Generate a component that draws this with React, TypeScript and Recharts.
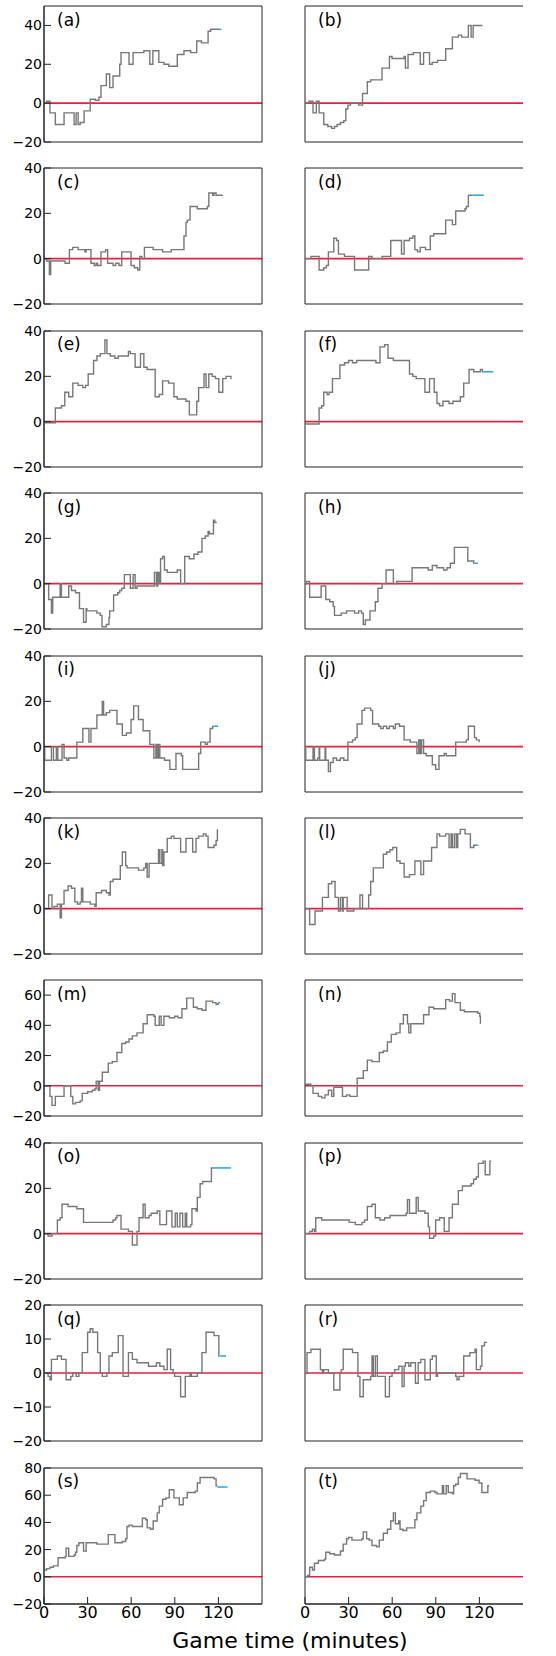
import React from 'react';
import { LineChart, Line, XAxis, YAxis, ReferenceLine } from 'recharts';

type P = [number, number];

// ---- data: [game time (minutes), score difference] ----
const panelA: P[] = [[0,0],[1.8,1],[4.1,-5],[7.8,-11],[13.8,-5],[20.7,-11],[22.1,-5],[23.5,-11],[24.9,-10],[27.6,-4],[31.8,2],[35.3,1.5],[37.8,3],[39.2,9],[42.9,15],[45.2,8],[47.5,14],[52.1,20],[53,26],[58.5,20],[61.3,26],[68.7,27],[72.8,20],[74.9,27],[79,21],[82.5,20],[85.9,19],[91.7,25],[96.3,27],[100.9,26],[105.1,32],[108.3,31],[112.9,37],[114.7,38],[120.5,38]];
const blueA: P[] = [[120.5,38],[122.1,38]];

const panelB: P[] = [[0,0],[2.8,1],[5.5,-5],[7.8,1],[9.7,-5],[12.9,-11],[15.7,-12],[18.4,-13],[20.3,-12],[22.1,-11],[24.4,-10],[26.7,-9],[28.1,-3],[29.5,-1],[31.3,0],[36.9,-1],[39.6,5],[42.9,11],[45.2,12],[53,18],[58.1,24],[59.9,23],[68.2,24],[69.1,18],[70.9,25],[74.6,26],[79.3,20],[81.6,26],[85.7,20],[87.6,21],[91.2,22],[96.8,28],[101.4,34],[105.5,35],[107.8,34],[112.4,40],[114.3,34],[115.7,40],[122.1,40]];
const blueB: P[] = [];

const panelC: P[] = [[0,0],[1.8,-1],[3.7,-7],[4.6,-1],[14.5,-2],[17.5,4],[19.8,5],[23.5,4],[28.1,3],[29,4],[32.3,-2],[34.6,-3],[35.9,-2],[36.9,-3],[39.2,3],[42.4,4],[43.8,-2],[47.5,-3],[49.3,-2],[51.6,-3],[53.5,3],[59.9,-3],[62.2,-4],[64.5,-5],[65.9,1],[67.3,0],[69.1,5],[75.1,4],[81.6,3],[87.6,4],[96.3,10],[97.7,16],[98.6,17],[100.5,23],[105.5,22],[112.4,23],[113.4,29],[116.1,28],[117,29],[118.4,28],[123,28]];
const blueC: P[] = [];

const panelD: P[] = [[0,0],[4.1,1],[9.7,-5],[12.9,-4],[14.7,-3],[16.1,3],[19.8,9],[21.7,8],[23,2],[27.2,1],[34.1,-5],[43.8,1],[46.1,0],[53,1],[59,8],[66.4,2],[68.2,8],[71.9,9],[74.2,10],[75.6,4],[77.4,3],[79.3,5],[82.9,4],[86.2,10],[88.5,11],[96.8,17],[101.4,15],[103.7,21],[110.1,22],[111,23],[112.4,28],[115.2,28]];
const blueD: P[] = [[115.2,28],[123,28]];

const panelE: P[] = [[0,-0.5],[7.8,6],[12,7],[14.3,13],[17,11],[19.8,17],[23.5,16],[26.7,15],[28.6,16],[30.4,21],[34.1,27],[36.4,29],[38.7,30],[41.9,36],[43.3,30],[45.6,29],[48.8,28],[51.1,29],[58.1,31],[59.4,30],[62.7,24],[66.4,30],[68.7,24],[71,23],[76.5,11],[79.3,12],[81.6,18],[85.7,17],[89.4,11],[91.7,10],[97.7,9],[100,3],[105.1,9],[106.4,15],[110.1,21],[111.5,15],[113.4,21],[115.7,20],[118,19],[120.3,13],[123,19],[125.3,20],[128.6,19],[129,19]];
const blueE: P[] = [];

const panelF: P[] = [[0,-1],[9.7,6],[11.5,7],[12.9,13],[15.2,12],[16.6,13],[18.9,19],[24,25],[27.2,26],[30,27],[32.7,26],[35.5,27],[48.8,26],[51.6,33],[54.8,34],[57.1,28],[60.8,27],[71.9,21],[74.2,20],[76.5,19],[82.5,13],[85.7,19],[88.9,13],[90.8,8],[92.6,7],[94.9,9],[99.1,8],[101.8,9],[106.9,11],[109.2,17],[112.9,23],[116.1,22],[120.7,23],[122.1,22],[122.6,22]];
const blueF: P[] = [[122.6,22],[129.5,22]];

const panelG: P[] = [[0,0],[3.2,-7],[5.1,-13],[6,-6],[10.6,-6],[11.1,0],[12,-6],[17,-1],[18.9,-3],[21.7,-4],[24.4,-11],[27.2,-17],[29,-11],[29.5,-12],[36.4,-13],[38.7,-14],[39.9,-19],[42.9,-18],[44.7,-15],[45.2,-12],[47.9,-5],[50.7,-4],[52.1,-3],[53.5,-2],[55.3,4],[59.4,-2],[61.3,4],[62.7,-2],[64,-1],[76,5],[77.4,-1],[78.3,5],[79.3,0],[80.2,11],[81.6,12],[82.9,6],[84.8,5],[91.7,6],[94,0],[96.8,12],[100,11],[103.2,13],[106,14],[108.7,20],[111,21],[112.9,23],[113.8,22],[116.6,28],[117.5,27],[118.9,27]];
const blueG: P[] = [];

const panelH: P[] = [[0,0],[1,1],[3.2,-6],[11.1,-1],[14.3,-7],[17,-8],[19.4,-10],[20.3,-14],[24.9,-13],[28.6,-12],[34.1,-13],[36.9,-12],[38.9,-13],[40.1,-18],[41.5,-16],[44.7,-12],[48.4,-8],[50.2,-2],[53,0],[55.8,6],[60.8,0],[63.1,1],[73.7,7],[84.8,6],[87.6,8],[90.8,7],[95.4,6],[97.7,7],[100,9],[102.8,16],[112,10],[116.1,9],[116.6,9]];
const blueH: P[] = [[116.6,9],[118.9,9]];

const panelI: P[] = [[0,0],[0.5,-6],[5.1,0],[6.5,-6],[8.5,0],[9.5,-6],[12.4,1],[13.8,-5],[15.7,-6],[17,-5],[22.6,2],[26.7,8],[30.9,2],[32.3,8],[36.4,14],[40.1,20],[41,14],[42.9,15],[45.2,16],[50.2,10],[53.9,5],[56.7,6],[59.9,12],[61.7,18],[65,12],[68.2,7],[72.8,1],[75.6,-5],[77,1],[77.9,-5],[78.8,1],[79.7,-5],[82.9,-6],[86.6,-10],[90.8,-3],[94.5,-4],[95.4,-10],[106.4,-3],[107.8,2],[111,1],[112.4,2],[114.3,8],[116.1,9],[116.6,9]];
const blueI: P[] = [[116.6,9],[119.8,9]];

const panelJ: P[] = [[0,0],[0.5,-6],[5.5,0],[6.5,-6],[8.8,-5],[9.7,0],[10.1,-6],[13.8,0],[14.3,-6],[16.1,-11],[17.5,-7],[19.4,-5],[21.7,-6],[24.4,-5],[26.7,-6],[29.5,2],[32.7,3],[34.6,4],[35.9,10],[39.2,16],[41,17],[45.2,16],[46.5,10],[50.7,9],[52.1,8],[53.9,9],[56.2,8],[58.1,9],[60.8,8],[62.2,10],[65,9],[68.2,3],[72.4,2],[77,-3],[78.3,3],[79.3,-3],[80.2,3],[81.6,-3],[83.4,-4],[87.6,-8],[89.9,-10],[92.2,-4],[95.8,-3],[97.2,-4],[103.7,2],[111,3],[112.4,9],[116.6,4],[117.9,3],[119.8,2]];
const blueJ: P[] = [];

const panelK: P[] = [[0,0],[3.2,6],[5.5,0],[6.9,1],[9.2,2],[11.1,-4],[12,2],[13.8,8],[16.6,10],[18.9,9],[21.2,3],[23,2],[24.9,3],[25.8,9],[26.7,3],[31.8,2],[35,1],[35.9,7],[39.6,8],[42.9,7],[44.7,6],[45.6,12],[47.5,13],[52.5,19],[53.9,25],[56.2,19],[57.1,18],[65,17],[68.7,18],[70,20],[71,14],[72.3,20],[78.8,26],[79.7,20],[81.1,26],[81.6,19],[82.5,25],[84.8,31],[87.6,32],[89.4,31],[94,25],[97.7,31],[102.3,25],[104.6,31],[106.4,32],[109.7,33],[111.5,32],[112.9,27],[117,28],[118.4,30],[119.3,35]];
const blueK: P[] = [];

const panelL: P[] = [[0,0],[3.2,-7],[6.9,-1],[12,5],[16.1,11],[18.4,12],[20.7,5],[23,-1],[24.4,5],[25.8,-1],[26.3,5],[29,-1],[33.6,0],[37.8,6],[39.6,0],[43.8,6],[45.2,12],[47,18],[52.5,18],[53.9,24],[56.2,25],[58.5,26],[60.4,27],[63.1,21],[65.4,20],[68.2,14],[71.9,15],[75.6,21],[79.7,15],[81.6,21],[87.1,27],[90.8,33],[92.6,32],[96.8,33],[99.1,27],[100.5,33],[101.4,27],[102.8,33],[104.1,27],[105.1,33],[106.9,35],[110.1,33],[113.8,27],[116.1,28],[118.4,28]];
const blueL: P[] = [[118.4,28],[119.3,28]];

const panelM: P[] = [[0,0],[4.1,-7],[5.5,-13],[7.8,-7],[13.8,0],[18.4,-7],[19.8,-12],[21.7,-11],[24.9,-10],[26.3,-5],[30,-4],[33.2,-3],[35,-2],[35.9,3],[37.3,-3],[38.2,3],[40.1,9],[44.2,15],[47,16],[50.2,22],[53.5,28],[56.2,29],[58.5,31],[60.8,33],[64,35],[68.2,41],[71,47],[75.6,46],[76.5,40],[79.3,46],[80.6,40],[82.5,46],[86.2,45],[89.9,46],[92.2,45],[94.9,51],[98.2,58],[102.8,52],[105.5,51],[108.7,50],[111.5,56],[116.1,55],[118.4,54],[119.8,55]];
const blueM: P[] = [[119.8,55],[121.2,55]];

const panelN: P[] = [[0,1],[4.1,0],[5.5,-5],[9.2,-7],[11.5,-8],[13.8,-6],[16.1,-3],[18.4,-7],[19.8,-1],[25.8,-7],[28.6,-6],[30.9,-7],[35.9,5],[40.1,10],[42.9,17],[46.1,16],[51.1,22],[53.9,23],[56.7,29],[59.4,34],[62.7,35],[65.4,41],[67.7,47],[70.5,41],[71.4,35],[72.8,41],[81.6,47],[85.3,52],[88.5,51],[96.8,57],[99.5,56],[101.4,61],[103.2,55],[106.9,50],[109.7,49],[118.9,48],[120.3,46],[120.7,41]];
const blueN: P[] = [];

const panelO: P[] = [[0,0],[2.8,-1],[5.5,0],[9.2,6],[11.1,7],[12.4,13],[16.6,12],[22.6,11],[27.2,5],[47.5,6],[49.3,7],[50.2,8],[53,2],[58.1,1],[60.8,-5],[64,1],[65.4,7],[68.2,13],[69.6,7],[72.3,8],[73.7,9],[77.9,10],[79.7,4],[84.3,10],[88,3],[90.3,9],[91.7,3],[93.5,9],[95.4,3],[97.2,9],[98.2,3],[100.9,4],[101.8,11],[104.6,10],[105.5,16],[107.4,22],[109.2,23],[115.2,29],[117,29]];
const blueO: P[] = [[117,29],[128.6,29]];

const panelP: P[] = [[0,0],[3.2,1],[5.1,2],[6.5,1],[7.4,7],[11.5,6],[30.4,5],[34.6,4],[39.2,5],[41,6],[42.9,12],[46.1,13],[48.4,7],[51.6,6],[54.8,7],[58.5,8],[69.6,9],[70.5,15],[71.9,9],[76.5,16],[77.9,10],[82.5,9],[84.8,3],[85.7,-2],[88.5,-1],[89.9,6],[92.6,7],[95.8,1],[99.1,7],[101.4,13],[105.5,19],[108.3,21],[114.3,22],[116,24],[117.9,25],[119.3,31],[122.6,32],[124,26],[127.2,32],[128.1,32]];
const blueP: P[] = [];

const panelQ: P[] = [[0,0],[2.8,-1],[4.1,-2],[5.1,4],[9.2,5],[12,4],[15.2,-2],[18.4,-1],[19.8,0],[22.1,-1],[24,0],[26.3,6],[30,12],[31.8,13],[33.6,12],[36.9,6],[38.7,0],[40.1,-1],[43.3,0],[44.7,5],[47,6],[51.1,11],[54.4,-1],[58.1,6],[60.8,4],[64,3],[71.9,2],[77.4,3],[79.7,2],[82.5,1],[84.8,7],[87.1,1],[88.9,0],[89.9,-1],[94,-7],[97.2,-1],[100.5,0],[101.4,-1],[105.5,0],[108.7,6],[111.5,12],[117,11],[120.3,5],[120.7,5]];
const blueQ: P[] = [[120.7,5],[125.3,5]];

const panelR: P[] = [[0,0],[1.4,6],[4.1,7],[10.6,1],[12,0],[12.9,1],[16.1,0],[19.8,-5],[24,0],[24.9,1],[26.3,7],[32.7,6],[36.4,-1],[37.8,-7],[40.1,-2],[45.2,-1],[46.1,5],[47,-1],[48.4,5],[49.8,-1],[55.3,-7],[58.1,-1],[59.9,0],[61.7,1],[64.5,2],[66.8,-4],[68.2,2],[69.1,3],[71.4,2],[72.8,3],[76,-3],[77.9,3],[79.7,4],[82.5,-2],[86.2,4],[87.6,5],[90.3,-1],[91.2,0],[103.7,-1],[104.6,-2],[106,-1],[109.2,5],[113.4,6],[117,7],[117.9,1],[120.7,2],[121.7,8],[123.5,9],[125.3,9]];
const blueR: P[] = [];

const panelS: P[] = [[0,5],[1.8,6],[4.1,7],[6.5,8],[9.7,14],[14.7,15],[15.2,21],[17,15],[20.7,16],[21.7,18],[22.6,23],[24,25],[27.2,19],[29,25],[36.4,24],[44.2,31],[48.8,25],[53.9,26],[56.2,28],[57.1,37],[58.5,38],[60.8,37],[67.7,43],[70,42],[71,36],[73.3,35],[75.1,41],[77.9,47],[79.3,52],[81.6,57],[83.9,58],[86.2,64],[89.4,58],[93.1,53],[95.8,58],[98.6,62],[104.1,63],[105.5,69],[107.4,73],[117,72],[118.4,67],[119.3,67]];
const blueS: P[] = [[119.3,66],[126.3,66]];

const panelT: P[] = [[0,0],[1.8,1],[3.2,7],[5.1,5],[6.5,10],[9.2,12],[13.4,13],[14.3,18],[17,17],[20.3,16],[24.4,19],[26.3,24],[28.6,28],[30,29],[32.3,27],[39.2,28],[40.1,33],[42.4,28],[44.2,27],[46.1,23],[49.3,22],[51.1,27],[53.9,32],[56.7,35],[59,41],[60.8,47],[62.2,39],[64.5,41],[65.4,35],[67.3,34],[70,36],[75.6,42],[77,47],[79.7,52],[81.6,56],[83.4,62],[86.2,63],[89.4,62],[90.8,61],[94.5,67],[95.4,61],[97.2,67],[98.6,62],[101.4,61],[102.3,67],[103.7,68],[105.5,73],[106.9,76],[111.5,72],[117,71],[119.8,69],[121.7,62],[125.3,62],[125.8,67],[126.7,67]];
const blueT: P[] = [];

const PANEL_LABELS = ['(a)','(b)','(c)','(d)','(e)','(f)','(g)','(h)','(i)','(j)','(k)','(l)','(m)','(n)','(o)','(p)','(q)','(r)','(s)','(t)'];
const GREY_SERIES: P[][] = [panelA,panelB,panelC,panelD,panelE,panelF,panelG,panelH,panelI,panelJ,panelK,panelL,panelM,panelN,panelO,panelP,panelQ,panelR,panelS,panelT];
const BLUE_SERIES: P[][] = [blueA,blueB,blueC,blueD,blueE,blueF,blueG,blueH,blueI,blueJ,blueK,blueL,blueM,blueN,blueO,blueP,blueQ,blueR,blueS,blueT];

const ROW_DOMAINS: [number, number][] = [[-20,50],[-20,40],[-20,40],[-20,40],[-20,40],[-20,40],[-20,70],[-20,40],[-20,20],[-20,80]];
const ROW_TICKS: number[][] = [[-20,0,20,40],[-20,0,20,40],[-20,0,20,40],[-20,0,20,40],[-20,0,20,40],[-20,0,20,40],[-20,0,20,40,60],[-20,0,20,40],[-20,-10,0,10,20],[-20,0,20,40,60,80]];
const X_DOMAIN: [number, number] = [0, 150];
const X_TICKS = [0, 30, 60, 90, 120];
const X_TITLE = 'Game time (minutes)';

// ---- styling / layout ----
const FONT = "'DejaVu Sans', 'Liberation Sans', sans-serif";
const GREY = '#787878';
const BLUE = '#1ea8e4';
const RED = '#e8203f';
const SPINE = '#222';
const PLOT_W = 218;
const PLOT_H = 136;
const COL_X = [44, 305];
const ROW_TOP0 = 6;
const ROW_STEP = 162.4;
const M_TOP = 12;
const M_RIGHT = 12;
const Y_AXIS_W = 44;
const X_AXIS_H = 30;

const toRows = (pts: P[]) => pts.map(([t, v]) => ({ t, v }));
const fmtMinus = (v: number) => String(v).replace('-', '\u2212');

function Panel({ idx }: { idx: number }) {
  const row = Math.floor(idx / 2);
  const col = idx % 2;
  const bottomRow = row === 9;
  const [ymin, ymax] = ROW_DOMAINS[row];
  const top = ROW_TOP0 + ROW_STEP * row;
  const left = COL_X[col];
  const grey = toRows(GREY_SERIES[idx]);
  const blue = toRows(BLUE_SERIES[idx]);
  const chartW = Y_AXIS_W + PLOT_W + M_RIGHT;
  const chartH = M_TOP + PLOT_H + X_AXIS_H;
  return (
    <>
      <div style={{ position: 'absolute', left: left - Y_AXIS_W, top: top - M_TOP }}>
        <LineChart
          width={chartW}
          height={chartH}
          margin={{ top: M_TOP, right: M_RIGHT, left: col === 1 ? Y_AXIS_W : 0, bottom: bottomRow ? 0 : X_AXIS_H }}
        >
          <XAxis
            type="number"
            dataKey="t"
            domain={X_DOMAIN}
            ticks={X_TICKS}
            interval={0}
            hide={!bottomRow}
            height={X_AXIS_H}
            tickSize={-7}
            tickMargin={10}
            axisLine={{ stroke: SPINE, strokeWidth: 1 }}
            tickLine={{ stroke: SPINE, strokeWidth: 1 }}
            tick={{ fill: '#000', fontSize: 16, fontFamily: FONT }}
            allowDataOverflow
          />
          <YAxis
            type="number"
            domain={[ymin, ymax]}
            ticks={ROW_TICKS[row]}
            interval={0}
            hide={col === 1}
            width={Y_AXIS_W}
            tickSize={-7}
            tickMargin={9}
            axisLine={{ stroke: SPINE, strokeWidth: 1 }}
            tickLine={{ stroke: SPINE, strokeWidth: 1 }}
            tick={{ fill: '#000', fontSize: 14, fontFamily: FONT }}
            tickFormatter={fmtMinus}
            allowDataOverflow
          />
          <ReferenceLine y={0} stroke={RED} strokeWidth={1.6} />
          <ReferenceLine y={ymax} stroke={SPINE} strokeWidth={1} />
          <ReferenceLine y={ymin} stroke={SPINE} strokeWidth={1} />
          <ReferenceLine x={0} stroke={SPINE} strokeWidth={1} />
          {col === 0 && <ReferenceLine x={X_DOMAIN[1]} stroke={SPINE} strokeWidth={1} />}
          <Line data={grey} dataKey="v" type="stepAfter" stroke={GREY} strokeWidth={1.4} dot={false} isAnimationActive={false} />
          {blue.length > 0 && (
            <Line data={blue} dataKey="v" type="stepAfter" stroke={BLUE} strokeWidth={1.5} dot={false} isAnimationActive={false} />
          )}
        </LineChart>
      </div>
      <div
        style={{
          position: 'absolute',
          left: left + 13,
          top: top + 5.6,
          fontFamily: FONT,
          fontSize: 17,
          lineHeight: '17px',
          color: '#000',
          whiteSpace: 'nowrap',
        }}
      >
        {PANEL_LABELS[idx]}
      </div>
    </>
  );
}

export default function App() {
  return (
    <div style={{ position: 'absolute', left: 0, top: 0, width: 556, height: 1656, background: '#fff', overflow: 'hidden' }}>
      {PANEL_LABELS.map((_, i) => (
        <Panel key={i} idx={i} />
      ))}
      <div
        style={{
          position: 'absolute',
          left: 90,
          width: 400,
          top: 1630,
          textAlign: 'center',
          fontFamily: FONT,
          fontSize: 22,
          lineHeight: '22px',
          color: '#000',
          whiteSpace: 'nowrap',
        }}
      >
        {X_TITLE}
      </div>
    </div>
  );
}
